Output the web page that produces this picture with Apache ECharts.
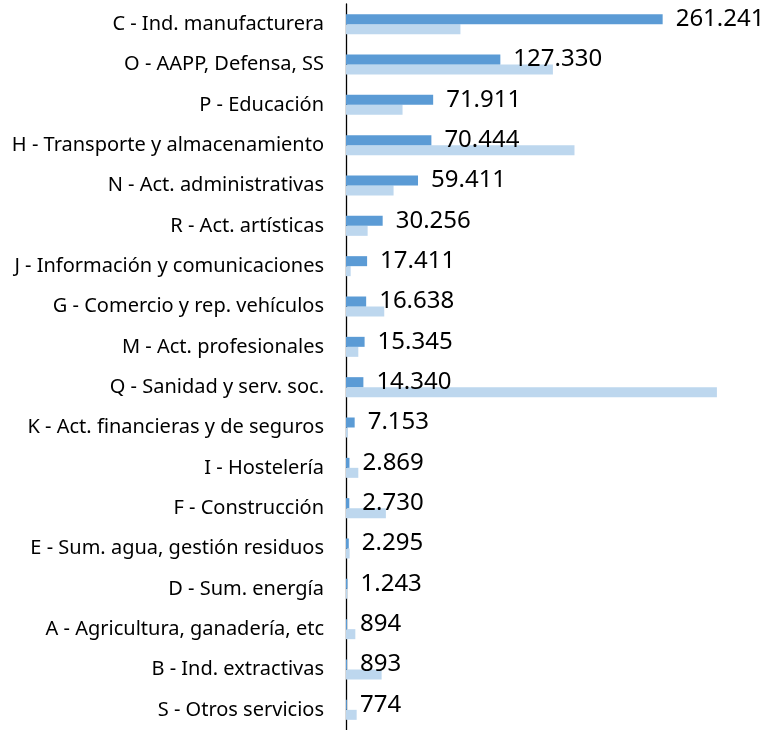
<!DOCTYPE html>
<html><head><meta charset="utf-8">
<script src="https://cdn.jsdelivr.net/npm/echarts@6/dist/echarts.min.js"></script>
<style>html,body{margin:0;padding:0;background:#fff}#c{width:767px;height:730px}</style>
</head><body><div id="c"></div>
<script>
const categories = ["C - Ind. manufacturera","O - AAPP, Defensa, SS","P - Educación","H - Transporte y almacenamiento","N - Act. administrativas","R - Act. artísticas","J - Información y comunicaciones","G - Comercio y rep. vehículos","M - Act. profesionales","Q - Sanidad y serv. soc.","K - Act. financieras y de seguros","I - Hostelería","F - Construcción","E - Sum. agua, gestión residuos","D - Sum. energía","A - Agricultura, ganadería, etc","B - Ind. extractivas","S - Otros servicios"];
const seriesA = [261241,127330,71911,70444,59411,30256,17411,16638,15345,14340,7153,2869,2730,2295,1243,894,893,774];
const seriesB = [94400,170700,46650,188500,39250,17850,3850,31550,10150,306000,1500,10150,32900,3000,1000,7700,29400,8800];

function fmt(v){return String(v).replace(/\B(?=(\d{3})+(?!\d))/g,'.');}
const chart = echarts.init(document.getElementById('c'));
chart.setOption({
  animation:false,
  grid:{left:346,right:21,top:4,bottom:-2,containLabel:false},
  xAxis:{type:'value',min:0,max:330000,show:false},
  yAxis:{type:'category',data:categories,inverse:true,
    axisLine:{show:true,lineStyle:{color:'#000',width:1.3}},
    axisTick:{show:false},
    axisLabel:{margin:22,color:'#000',fontFamily:'Noto Sans',fontSize:20}},
  series:[
    {type:'bar',data:seriesA,barWidth:10,barGap:'0%',itemStyle:{color:'#5B9BD5'},
     label:{show:true,position:'right',distance:13,color:'#000',fontFamily:'Noto Sans',fontSize:24,formatter:p=>fmt(p.value)},z:3},
    {type:'bar',data:seriesB,barWidth:10,barGap:'0%',itemStyle:{color:'#BDD7EE'},z:2}
  ]
});
</script></body></html>
